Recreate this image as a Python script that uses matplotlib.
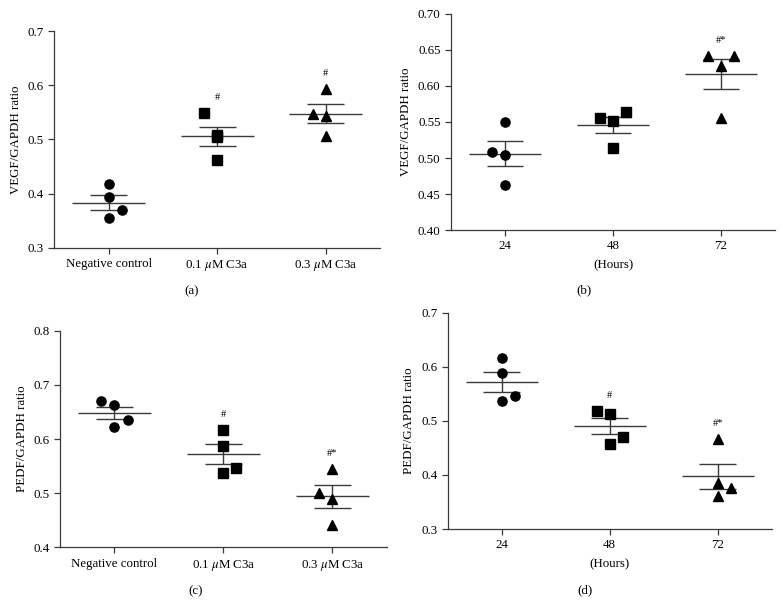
import numpy as np
import matplotlib
matplotlib.use("Agg")
import matplotlib.pyplot as plt

plt.rcParams["font.family"] = ["Liberation Serif", "DejaVu Serif"]
plt.rcParams["mathtext.fontset"] = "stix"

# --- data ----------------------------------------------------------------
dose_labels = ["Negative control", "0.1 $\\mu$M C3a", "0.3 $\\mu$M C3a"]
time_labels = ["24", "48", "72"]

vegf_dose_ctrl = [0.418, 0.393, 0.369, 0.354]
vegf_dose_01 = [0.549, 0.508, 0.504, 0.463]
vegf_dose_03 = [0.593, 0.548, 0.544, 0.506]
vegf_dose_marks = ["", "#", "#"]

vegf_time_24 = [0.550, 0.508, 0.504, 0.463]
vegf_time_48 = [0.556, 0.552, 0.564, 0.514]
vegf_time_72 = [0.641, 0.628, 0.641, 0.556]
vegf_time_marks = ["", "", "#*"]

pedf_dose_ctrl = [0.671, 0.663, 0.636, 0.623]
pedf_dose_01 = [0.617, 0.588, 0.546, 0.538]
pedf_dose_03 = [0.545, 0.500, 0.490, 0.441]
pedf_dose_marks = ["", "#", "#*"]

pedf_time_24 = [0.617, 0.588, 0.546, 0.537]
pedf_time_48 = [0.518, 0.513, 0.471, 0.458]
pedf_time_72 = [0.466, 0.386, 0.376, 0.361]
pedf_time_marks = ["", "#", "#*"]

# horizontal scatter of the points inside each group (beeswarm look)
jitter_a = [[0, 0, 0.12, 0], [-0.12, 0, 0, 0], [0, -0.12, 0, 0]]
jitter_b = [[0, -0.12, 0, 0], [-0.12, 0, 0.12, 0], [-0.12, 0, 0.12, 0]]
jitter_c = [[-0.12, 0, 0.12, 0], [0, 0, 0.12, 0], [0, -0.12, 0, 0]]
jitter_d = [[0, 0, 0.12, 0], [-0.12, 0, 0.12, 0], [0, 0, 0.12, 0]]

markers = ["o", "s", "^"]
line_col = "#3a3a3a"
fs = 9.3


def dot_panel(ax, groups, jitter, marks, ylim, yticks, yfmt, ylabel, xlabels, xlabel=None):
    for i, vals in enumerate(groups):
        vals = np.array(vals)
        m = vals.mean()
        sem = vals.std(ddof=1) / np.sqrt(len(vals))
        ax.hlines(m, i - 0.335, i + 0.335, color=line_col, lw=1.0, zorder=2)
        ax.hlines([m + sem, m - sem], i - 0.17, i + 0.17, color=line_col, lw=1.0, zorder=2)
        ax.vlines(i, m - sem, m + sem, color=line_col, lw=1.0, zorder=2)
        ax.plot(i + np.array(jitter[i]), vals, ls="none", marker=markers[i],
                ms=6.6 if markers[i] != "^" else 7.2, color="black", zorder=3)
        if marks[i]:
            top = vals.max()
            ax.annotate(marks[i], (i, top), xytext=(0, 8), textcoords="offset points",
                        ha="center", va="bottom", fontsize=7.5)

    ax.set_xlim(-0.5, 2.5)
    ax.set_ylim(*ylim)
    ax.set_yticks(yticks)
    ax.set_yticklabels([yfmt.format(t) for t in yticks])
    ax.set_xticks(range(3))
    ax.set_xticklabels(xlabels)
    ax.set_ylabel(ylabel, fontsize=fs, labelpad=4)
    if xlabel:
        ax.set_xlabel(xlabel, fontsize=fs, labelpad=5)

    for s in ("top", "right"):
        ax.spines[s].set_visible(False)
    for s in ("left", "bottom"):
        ax.spines[s].set_color(line_col)
        ax.spines[s].set_linewidth(0.9)
    ax.tick_params(direction="out", length=4.5, width=0.9, color=line_col,
                   labelsize=fs, pad=3)


fig = plt.figure(figsize=(7.83, 6.16), dpi=100)

ax_a = fig.add_axes([0.0694, 0.5979, 0.4159, 0.3513])
ax_b = fig.add_axes([0.5760, 0.6266, 0.4138, 0.3507])
ax_c = fig.add_axes([0.0766, 0.1115, 0.4173, 0.3516])
ax_d = fig.add_axes([0.5718, 0.1412, 0.4138, 0.3512])

dot_panel(ax_a, [vegf_dose_ctrl, vegf_dose_01, vegf_dose_03], jitter_a, vegf_dose_marks,
          (0.3, 0.7), [0.3, 0.4, 0.5, 0.6, 0.7], "{:.1f}", "VEGF/GAPDH ratio", dose_labels)
dot_panel(ax_b, [vegf_time_24, vegf_time_48, vegf_time_72], jitter_b, vegf_time_marks,
          (0.40, 0.70), [0.40, 0.45, 0.50, 0.55, 0.60, 0.65, 0.70], "{:.2f}",
          "VEGF/GAPDH ratio", time_labels, "(Hours)")
dot_panel(ax_c, [pedf_dose_ctrl, pedf_dose_01, pedf_dose_03], jitter_c, pedf_dose_marks,
          (0.4, 0.8), [0.4, 0.5, 0.6, 0.7, 0.8], "{:.1f}", "PEDF/GAPDH ratio", dose_labels)
dot_panel(ax_d, [pedf_time_24, pedf_time_48, pedf_time_72], jitter_d, pedf_time_marks,
          (0.3, 0.7), [0.3, 0.4, 0.5, 0.6, 0.7], "{:.1f}", "PEDF/GAPDH ratio",
          time_labels, "(Hours)")

fig.text(0.2448, 0.5276, "(a)", ha="center", va="center", fontsize=fs)
fig.text(0.7458, 0.5292, "(b)", ha="center", va="center", fontsize=fs)
fig.text(0.2500, 0.0406, "(c)", ha="center", va="center", fontsize=fs)
fig.text(0.7471, 0.0422, "(d)", ha="center", va="center", fontsize=fs)

fig.savefig("out.png", dpi=100)
